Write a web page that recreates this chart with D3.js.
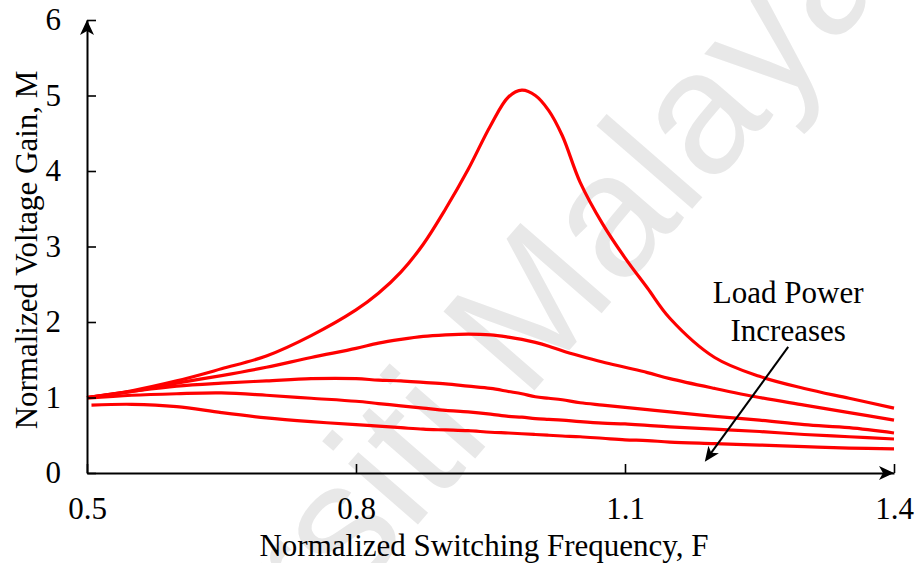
<!DOCTYPE html>
<html>
<head>
<meta charset="utf-8">
<script src="https://cdn.jsdelivr.net/npm/d3@7"></script>
<style>
  html, body { margin: 0; padding: 0; background: #ffffff; }
  svg { display: block; }
  text { font-family: "Liberation Serif", "Times New Roman", serif; fill: #000; }
</style>
</head>
<body>
<svg id="chart" width="921" height="563"></svg>
<script>
// ---- data ----
const freq  = [0.5, 0.55, 0.6, 0.65, 0.7, 0.75, 0.8, 0.825, 0.85, 0.875, 0.9, 0.925, 0.95, 0.97, 0.985, 1.0, 1.015, 1.03, 1.05, 1.075, 1.1, 1.125, 1.15, 1.2, 1.25, 1.3, 1.35, 1.4];
const freqLow = [0.505, 0.55, 0.6, 0.65, 0.7, 0.75, 0.8, 0.825, 0.85, 0.875, 0.9, 0.925, 0.95, 0.97, 0.985, 1.0, 1.015, 1.03, 1.05, 1.075, 1.1, 1.125, 1.15, 1.2, 1.25, 1.3, 1.35, 1.4];
const gainA = [1.0, 1.09, 1.22, 1.38, 1.55, 1.82, 2.16, 2.38, 2.66, 3.03, 3.50, 4.02, 4.60, 4.98, 5.07, 5.00, 4.80, 4.47, 3.85, 3.30, 2.85, 2.45, 2.05, 1.53, 1.28, 1.12, 0.99, 0.86];
const gainB = [1.0, 1.08, 1.19, 1.29, 1.40, 1.53, 1.65, 1.72, 1.77, 1.81, 1.83, 1.84, 1.83, 1.80, 1.77, 1.73, 1.68, 1.62, 1.55, 1.47, 1.40, 1.33, 1.25, 1.12, 1.00, 0.90, 0.80, 0.70];
const gainC = [1.0, 1.08, 1.15, 1.19, 1.22, 1.25, 1.25, 1.23, 1.22, 1.20, 1.18, 1.15, 1.12, 1.08, 1.05, 1.01, 0.99, 0.97, 0.93, 0.90, 0.87, 0.84, 0.81, 0.75, 0.70, 0.64, 0.60, 0.53];
const gainD = [0.99, 1.03, 1.05, 1.06, 1.03, 0.99, 0.95, 0.92, 0.89, 0.86, 0.83, 0.81, 0.78, 0.75, 0.74, 0.72, 0.71, 0.70, 0.68, 0.66, 0.65, 0.63, 0.61, 0.58, 0.55, 0.51, 0.48, 0.45];
const gainE = [0.90, 0.91, 0.88, 0.80, 0.73, 0.68, 0.64, 0.62, 0.60, 0.58, 0.57, 0.56, 0.54, 0.53, 0.52, 0.51, 0.50, 0.49, 0.48, 0.46, 0.44, 0.43, 0.41, 0.39, 0.37, 0.35, 0.33, 0.32];
const xTicks = [0.5, 0.8, 1.1, 1.4];
const yTicks = [0, 1, 2, 3, 4, 5, 6];
const xTitle = "Normalized Switching Frequency, F";
const yTitle = "Normalized Voltage Gain, M";
const noteLines = ["Load Power", "Increases"];
const noteArrowFrom = [1.282, 1.67];
const noteArrowTo = [1.189, 0.15];
const watermark = "Universiti Malaya";

const series = [
  { f: freq, m: gainA },
  { f: freq, m: gainB },
  { f: freq, m: gainC },
  { f: freq, m: gainD },
  { f: freqLow, m: gainE }
];

// ---- layout ----
const svg = d3.select("#chart");
const W = 921, H = 563;
const margin = { left: 87, right: 27, top: 20, bottom: 90 };
const x = d3.scaleLinear().domain([0.5, 1.4]).range([margin.left, W - margin.right]);
const y = d3.scaleLinear().domain([0, 6]).range([H - margin.bottom, margin.top]);

// watermark
svg.append("text")
  .attr("transform", "translate(21,981) rotate(-49)")
  .attr("x", 0).attr("y", 0)
  .style("font-family", "'Liberation Sans', Arial, sans-serif")
  .style("font-size", "175px")
  .style("fill", "#e8e8e8")
  .text(watermark);

// curves
const line = d3.line()
  .x(d => x(d[0]))
  .y(d => y(d[1]))
  .curve(d3.curveCatmullRom.alpha(0.5));

svg.append("g").selectAll("path")
  .data(series)
  .join("path")
  .attr("d", s => line(s.f.map((f, i) => [f, s.m[i]])))
  .attr("fill", "none")
  .attr("stroke", "#ff0000")
  .attr("stroke-width", 3.2)
  .attr("stroke-linejoin", "round");

// axes
const xAxis = d3.axisBottom(x).tickValues(xTicks).tickFormat(d3.format(".1f"))
  .tickSizeInner(-9).tickSizeOuter(0).tickPadding(24);
const yAxis = d3.axisLeft(y).tickValues(yTicks).tickFormat(d3.format("d"))
  .tickSizeInner(-9).tickSizeOuter(0).tickPadding(26);

const gx = svg.append("g").attr("transform", `translate(0,${y(0)})`).call(xAxis);
const gy = svg.append("g").attr("transform", `translate(${x(0.5)},0)`).call(yAxis);
[gx, gy].forEach(g => {
  g.select(".domain").attr("stroke", "#000").attr("stroke-width", 2);
  g.selectAll(".tick line").attr("stroke", "#000").attr("stroke-width", 1.6);
  g.selectAll(".tick text")
    .style("font-family", "'Liberation Serif', 'Times New Roman', serif")
    .style("font-size", "31px").attr("fill", "#000");
});

// axis arrowheads
function arrowHead(tx, ty, angleDeg, len, half, notch) {
  const a = angleDeg * Math.PI / 180;
  const ux = Math.cos(a), uy = Math.sin(a);
  const px = -uy, py = ux;
  const bx = tx - ux * len, by = ty - uy * len;
  const nx = tx - ux * notch, ny = ty - uy * notch;
  return `M${tx},${ty}L${bx + px * half},${by + py * half}L${nx},${ny}L${bx - px * half},${by - py * half}Z`;
}
svg.append("path").attr("d", arrowHead(x(0.5), y(6), -90, 15, 7, 11)).attr("fill", "#000");
svg.append("path").attr("d", arrowHead(x(1.4), y(0), 0, 15, 7, 11)).attr("fill", "#000");

// annotation
const ax1 = x(noteArrowFrom[0]), ay1 = y(noteArrowFrom[1]);
const ax2 = x(noteArrowTo[0]), ay2 = y(noteArrowTo[1]);
const ang = Math.atan2(ay2 - ay1, ax2 - ax1) * 180 / Math.PI;
svg.append("line")
  .attr("x1", ax1).attr("y1", ay1)
  .attr("x2", ax2 - Math.cos(ang * Math.PI / 180) * 8)
  .attr("y2", ay2 - Math.sin(ang * Math.PI / 180) * 8)
  .attr("stroke", "#000").attr("stroke-width", 2);
svg.append("path").attr("d", arrowHead(ax2, ay2, ang, 15, 6.5, 11)).attr("fill", "#000");

svg.append("g").selectAll("text")
  .data(noteLines)
  .join("text")
  .attr("x", x(noteArrowFrom[0]))
  .attr("y", (d, i) => 303 + i * 38)
  .attr("text-anchor", "middle")
  .style("font-size", "31px")
  .text(d => d);

// axis titles
svg.append("text")
  .attr("x", 484).attr("y", 556)
  .attr("text-anchor", "middle")
  .style("font-size", "31px")
  .text(xTitle);

svg.append("text")
  .attr("transform", "translate(37,250) rotate(-90)")
  .attr("text-anchor", "middle")
  .style("font-size", "31px")
  .text(yTitle);
</script>
</body>
</html>
